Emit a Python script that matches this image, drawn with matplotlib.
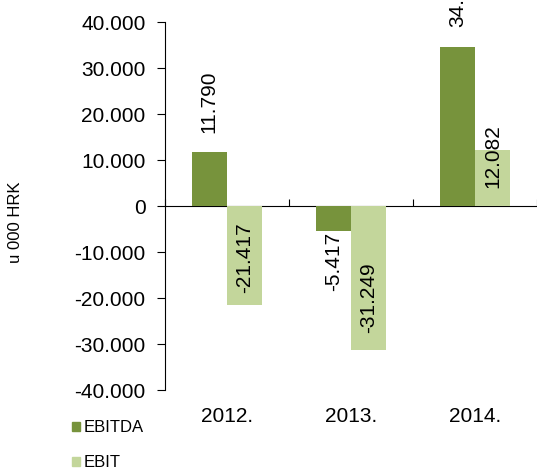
import numpy as np
import matplotlib
matplotlib.use('Agg')
import matplotlib.pyplot as plt
from matplotlib.patches import Patch

plt.rcParams['font.family'] = ['Liberation Sans', 'DejaVu Sans']

years = ['2012.', '2013.', '2014.']
ebitda = [11790, -5417, 34585]
ebit = [-21417, -31249, 12082]
ebitda_labels = ['11.790', '-5.417', '34.585']
ebit_labels = ['-21.417', '-31.249', '12.082']

C_EBITDA = '#77933c'
C_EBIT = '#c3d69b'

fig = plt.figure(figsize=(5.37, 4.70), dpi=100)
ax = fig.add_axes([165 / 537, 1 - 390 / 470, 372 / 537, 368 / 470])

x = np.arange(len(years))
w = 0.285
ax.bar(x - w / 2, ebitda, w, color=C_EBITDA, zorder=2)
ax.bar(x + w / 2, ebit, w, color=C_EBIT, zorder=2)

ax.set_xlim(-0.5, 2.5)
ax.set_ylim(-40000, 40000)
yt = list(range(-40000, 40001, 10000))
ax.set_yticks(yt)
ax.set_yticklabels([f'{v // 1000:d}.000' if v != 0 else '0' for v in yt], fontsize=15)
ax.tick_params(axis='y', direction='out', length=6, width=0.8, pad=8)

ax.set_xticks(x)
ax.set_xticklabels(years, fontsize=15)
ax.tick_params(axis='x', length=0, pad=12)

for s in ['top', 'right', 'bottom']:
    ax.spines[s].set_visible(False)
ax.spines['left'].set_linewidth(0.8)

# zero line with category boundary ticks
zero = ax.secondary_xaxis(0.5)
zero.set_xticks([-0.5, 0.5, 1.5, 2.5])
zero.set_xticklabels([])
zero.tick_params(direction='out', length=5, width=0.8)
zero.spines['bottom'].set_linewidth(1.0)

# data labels: vertical offsets in px from bar end (positive = downwards)
ebitda_off = [-50, 31, -52]
ebit_off = [-47, -52, 6]
px = 72 / fig.dpi
for xs, vals, labs, offs in [(x - w / 2, ebitda, ebitda_labels, ebitda_off),
                             (x + w / 2, ebit, ebit_labels, ebit_off)]:
    for xi, v, lab, o in zip(xs, vals, labs, offs):
        ax.annotate(lab, (xi, v), xytext=(0, -o * px), textcoords='offset points',
                    rotation=90, ha='center', va='center', fontsize=15,
                    annotation_clip=False, zorder=3)

fig.text(16 / 537, 1 - 222 / 470, 'u 000 HRK', rotation=90, ha='center', va='center',
         fontsize=12)

handles = [Patch(color=C_EBITDA), Patch(color=C_EBIT)]
fig.legend(handles, ['EBITDA', 'EBIT'], loc='upper left',
           bbox_to_anchor=(72 / 537, 1 - 420 / 470), frameon=False, fontsize=12,
           handlelength=0.45, handleheight=0.45, handletextpad=0.25,
           labelspacing=1.2, borderpad=0, borderaxespad=0)

fig.savefig('out.png', dpi=100)
